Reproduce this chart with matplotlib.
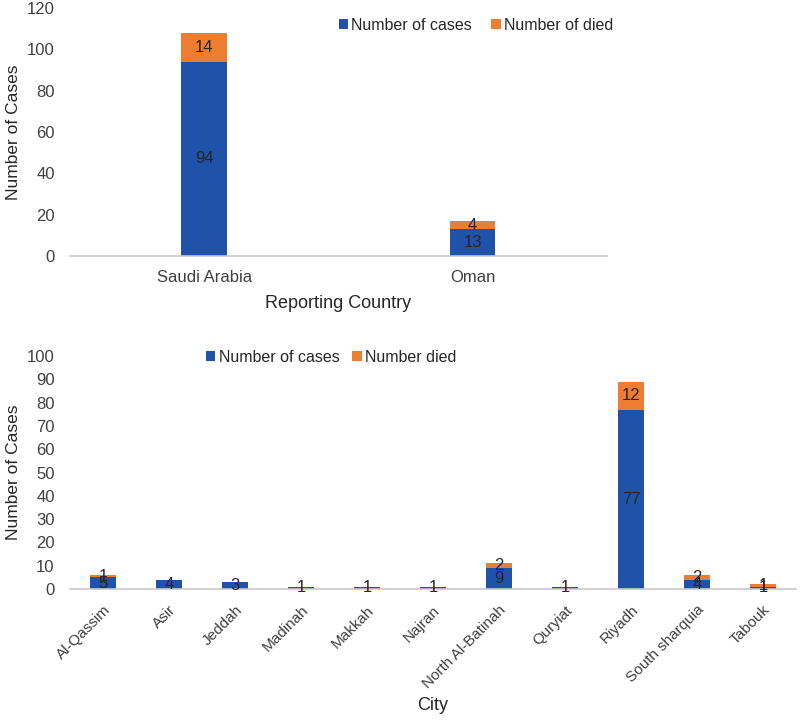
import numpy as np
import matplotlib
matplotlib.use('Agg')
import matplotlib.pyplot as plt

plt.rcParams['font.family'] = ['Liberation Sans', 'DejaVu Sans']

# ── Data ────────────────────────────────────────────────────────────────
countries = ['Saudi Arabia', 'Oman']
country_cases = [94, 13]
country_died = [14, 4]

cities = ['Al-Qassim', 'Asir', 'Jeddah', 'Madinah', 'Makkah', 'Najran',
          'North Al-Batinah', 'Quryiat', 'Riyadh', 'South sharquia', 'Tabouk']
city_cases = [5, 4, 3, 1, 1, 1, 9, 1, 77, 4, 1]
city_died = [1, 0, 0, 0, 0, 0, 2, 0, 12, 2, 1]

BLUE = '#1f53a9'
ORANGE = '#ed7d31'
TXT = '#262626'
TICK = '#404040'

fig = plt.figure(figsize=(8, 7.2), dpi=100)


def style(ax):
    for s in ['top', 'right', 'left']:
        ax.spines[s].set_visible(False)
    ax.spines['bottom'].set_color('#c8c8c8')
    ax.spines['bottom'].set_linewidth(1.2)
    ax.tick_params(axis='both', length=0, colors=TICK, labelsize=12)


def label_segments(ax, x, bottoms, heights):
    for xi, b, h in zip(x, bottoms, heights):
        if h > 0:
            ax.text(xi, b + h / 2, str(h), ha='center', va='center',
                    fontsize=12, color=TXT)


# ── Top: by reporting country ───────────────────────────────────────────
ax1 = fig.add_axes([0.0875, 0.6444, 0.671, 0.3444])
x1 = np.arange(len(countries))
ax1.bar(x1, country_cases, width=0.17, color=BLUE, label='Number of cases')
ax1.bar(x1, country_died, width=0.17, bottom=country_cases, color=ORANGE,
        label='Number of died')
label_segments(ax1, x1, [0] * len(x1), country_cases)
label_segments(ax1, x1, country_cases, country_died)
ax1.set_xlim(-0.5, len(countries) - 0.5)
ax1.set_ylim(0, 120)
ax1.set_yticks(range(0, 121, 20))
ax1.set_xticks(x1)
ax1.set_xticklabels(countries)
style(ax1)
ax1.tick_params(axis='x', pad=10)
ax1.tick_params(axis='y', pad=11)
ax1.set_ylabel('Number of Cases', fontsize=12.5, color=TXT, labelpad=4)
ax1.set_xlabel('Reporting Country', fontsize=13, color=TXT, labelpad=7)
ax1.legend(loc='center', bbox_to_anchor=(476 / 800, 1 - 25 / 720),
           bbox_transform=fig.transFigure, ncol=2, frameon=False,
           fontsize=11.5, handlelength=0.6, handleheight=0.6,
           handletextpad=0.2, columnspacing=1.2, labelcolor=TXT)

# ── Bottom: by city ─────────────────────────────────────────────────────
ax2 = fig.add_axes([0.0875, 0.1819, 0.9075, 0.3236])
x2 = np.arange(len(cities))
ax2.bar(x2, city_cases, width=0.4, color=BLUE, label='Number of cases')
ax2.bar(x2, city_died, width=0.4, bottom=city_cases, color=ORANGE,
        label='Number died')
label_segments(ax2, x2, [0] * len(x2), city_cases)
label_segments(ax2, x2, city_cases, city_died)
ax2.set_xlim(-0.5, len(cities) - 0.5)
ax2.set_ylim(0, 100)
ax2.set_yticks(range(0, 101, 10))
ax2.set_xticks(x2)
ax2.set_xticklabels(cities, rotation=45, ha='right', rotation_mode='anchor')
style(ax2)
ax2.tick_params(axis='x', labelsize=11, pad=10)
ax2.tick_params(axis='y', pad=11)
ax2.set_ylabel('Number of Cases', fontsize=12.5, color=TXT, labelpad=4)
ax2.set_xlabel('City', fontsize=13, color=TXT, labelpad=4)
ax2.legend(loc='center', bbox_to_anchor=(331 / 800, 1 - 357 / 720),
           bbox_transform=fig.transFigure, ncol=2, frameon=False,
           fontsize=11.5, handlelength=0.6, handleheight=0.6,
           handletextpad=0.2, columnspacing=0.8, labelcolor=TXT)

fig.savefig('out.png', dpi=100, facecolor='white')
